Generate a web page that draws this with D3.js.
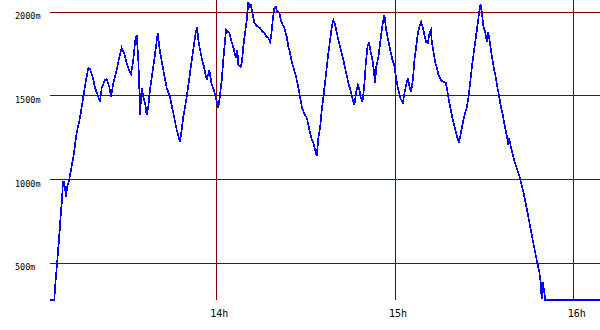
<!DOCTYPE html>
<html>
<head>
<meta charset="utf-8">
<script src="https://cdn.jsdelivr.net/npm/d3@7/dist/d3.min.js"></script>
<style>
  html, body { margin: 0; padding: 0; background: #fff; }
  svg { display: block; }
  .y-label { font-family: "DejaVu Sans Mono", monospace; font-size: 8.5px; fill: #000; }
  .x-label { font-family: "DejaVu Sans Mono", monospace; font-size: 10px; fill: #000; }
</style>
</head>
<body>
<svg id="chart"></svg>
<script>
// minutes after 13:00
const minutes = [
  4.16, 5.6, 5.82, 6.15, 6.49, 6.83, 7.16, 7.5, 7.83, 8.17, 8.5, 8.86, 9.2, 9.53, 9.87, 10.2, 10.54, 10.88, 11.21, 11.55,
  11.98, 13.12, 14.23, 15.34, 16.25, 17.02, 17.59, 18.5, 19.27, 20.18, 20.95, 21.52, 22.63, 23.2, 24.07, 24.64, 25.41, 26.56, 27.43, 28.23,
  29.01, 29.91, 30.68, 31.36, 32.13, 32.8, 33.27, 33.81, 34.14, 34.38, 34.95, 35.49, 36.06, 36.63, 37.16, 37.74, 38.84, 39.75, 40.32, 41.09,
  42.2, 43.34, 44.45, 45.56, 46.7, 47.81, 48.38, 48.92, 50.06, 51.17, 52.27, 53.08, 53.52, 54.09, 55.1, 55.87, 56.78, 57.65, 58.46, 59.23,
  59.8, 60.68, 61.25, 61.82, 62.35, 63.26, 63.83, 64.37, 65.17, 65.95, 66.52, 67.06, 67.39, 68.2, 68.54, 69.07, 69.65, 70.22, 70.76, 71.09,
  71.56, 72.1, 72.77, 73.58, 74.69, 75.59, 76.13, 76.94, 77.48, 78.05, 78.38, 78.95, 79.49, 79.96, 80.5, 81.17, 81.64, 82.31, 82.85, 83.66,
  84.2, 84.77, 85.34, 85.88, 86.78, 87.56, 88.13, 88.7, 89.47, 90.38, 90.92, 91.49, 92.06, 92.6, 93.17, 93.74, 94.28, 94.85, 95.42, 95.96,
  96.53, 97.1, 97.64, 98.21, 98.78, 99.32, 99.89, 100.46, 101.0, 101.8, 102.68, 103.59, 104.36, 105.27, 105.84, 106.38, 106.95, 107.52, 108.06, 108.53,
  109.07, 109.64, 110.21, 110.75, 111.22, 111.89, 112.56, 113.33, 113.67, 114.44, 115.25, 115.92, 116.46, 116.93, 117.47, 118.04, 118.61, 119.15, 119.72, 120.29,
  120.96, 121.5, 121.73, 122.64, 123.08, 123.75, 124.32, 124.86, 125.43, 126.0, 126.53, 127.1, 127.67, 128.21, 128.78, 129.35, 129.89, 130.46, 131.03, 131.57,
  132.04, 132.37, 132.91, 133.48, 134.05, 134.59, 135.39, 136.27, 137.07, 137.61, 138.18, 138.75, 139.29, 139.86, 140.43, 140.97, 141.44, 141.88, 142.45, 142.99,
  143.56, 144.13, 144.67, 145.24, 145.81, 146.35, 146.92, 147.49, 148.03, 148.36, 148.7, 149.17, 149.71, 150.28, 150.85, 151.29, 151.73, 152.2, 152.74, 153.31,
  153.88, 154.42, 154.99, 155.56, 156.23, 156.77, 157.34, 157.78, 158.01, 158.18, 158.61, 159.18, 159.75, 160.28, 160.85, 162.05, 163.16, 164.3, 165.41, 166.43,
  167.57, 168.45, 168.92, 169.25, 169.4, 169.66, 170.1, 170.44, 188.83
]
const altitude = [
  280, 280, 340, 418, 490, 562, 639, 717, 807, 872, 986, 986, 950, 896, 950, 974, 992, 1028, 1058, 1093,
  1129, 1279, 1368, 1494, 1595, 1667, 1661, 1613, 1548, 1506, 1464, 1548, 1595, 1601, 1554, 1494, 1577, 1655, 1733, 1787,
  1757, 1697, 1655, 1631, 1715, 1834, 1864, 1715, 1554, 1386, 1548, 1494, 1458, 1386, 1434, 1536, 1673, 1793, 1876, 1763,
  1655, 1548, 1494, 1398, 1297, 1225, 1297, 1374, 1494, 1637, 1775, 1876, 1912, 1817, 1727, 1673, 1595, 1655, 1566, 1536,
  1488, 1428, 1506, 1595, 1715, 1894, 1882, 1876, 1822, 1775, 1727, 1775, 1685, 1673, 1697, 1793, 1876, 1954, 2062, 2032,
  2044, 2002, 1936, 1918, 1906, 1882, 1876, 1852, 1846, 1822, 1852, 1954, 2026, 2032, 2002, 1996, 1954, 1924, 1906, 1852,
  1793, 1757, 1703, 1673, 1613, 1548, 1494, 1434, 1398, 1368, 1327, 1279, 1237, 1219, 1177, 1141, 1249, 1309, 1416, 1494,
  1583, 1673, 1757, 1834, 1912, 1954, 1924, 1876, 1834, 1775, 1715, 1637, 1577, 1518, 1476, 1446, 1524, 1566, 1536, 1488,
  1464, 1554, 1697, 1793, 1822, 1757, 1703, 1577, 1673, 1733, 1852, 1936, 1984, 1906, 1852, 1805, 1757, 1715, 1685, 1613,
  1548, 1506, 1488, 1458, 1506, 1566, 1607, 1554, 1524, 1595, 1715, 1793, 1876, 1912, 1942, 1906, 1864, 1822, 1817, 1876,
  1894, 1822, 1763, 1703, 1667, 1625, 1595, 1583, 1577, 1524, 1464, 1416, 1368, 1327, 1285, 1249, 1219, 1255, 1309, 1356,
  1398, 1434, 1494, 1577, 1673, 1745, 1822, 1894, 1966, 2014, 2050, 1996, 1912, 1882, 1822, 1882, 1834, 1775, 1715, 1655,
  1607, 1548, 1494, 1434, 1386, 1327, 1279, 1237, 1207, 1249, 1219, 1177, 1135, 1099, 1070, 1004, 920, 819, 717, 621,
  520, 448, 382, 287, 382, 382, 328, 280, 280
]

const yTicks = [500, 1000, 1500, 2000]
const xTicks = [60, 120, 180]
const xTickLabels = ['14h', '15h', '16h']

const width = 600,
  height = 330
const MARGIN = { top: 0, right: 0, bottom: 30, left: 50 }
const GRID = '#800000'
const LINE = '#0000ff'

const data = minutes.map((m, i) => ({ t: m, alt: altitude[i] }))

const $svg = d3.select('#chart')
  .attr('width', width)
  .attr('height', height)

const xScale = d3.scaleLinear()
  .domain(d3.extent(data, d => d.t))
  .range([MARGIN.left, width - MARGIN.right])

const yScale = d3.scaleLinear()
  .domain([280, 2073])
  .range([height - MARGIN.bottom, MARGIN.top])

// snap grid lines to whole pixels
const px = v => Math.floor(v) + 0.5

const $grid = $svg.append('g').attr('class', 'grid')

$grid.selectAll('.h-line')
  .data(yTicks)
  .enter()
  .append('line')
  .attr('class', 'h-line')
  .attr('x1', MARGIN.left)
  .attr('x2', width - MARGIN.right)
  .attr('y1', d => px(yScale(d)))
  .attr('y2', d => px(yScale(d)))
  .attr('stroke', GRID)
  .attr('stroke-width', 1)
  .attr('shape-rendering', 'crispEdges')

$grid.selectAll('.v-line')
  .data(xTicks)
  .enter()
  .append('line')
  .attr('class', 'v-line')
  .attr('x1', d => px(xScale(d)))
  .attr('x2', d => px(xScale(d)))
  .attr('y1', MARGIN.top)
  .attr('y2', height - MARGIN.bottom)
  .attr('stroke', GRID)
  .attr('stroke-width', 1)
  .attr('shape-rendering', 'crispEdges')

$svg.selectAll('.y-label')
  .data(yTicks)
  .enter()
  .append('text')
  .attr('class', 'y-label')
  .attr('x', 15)
  .attr('y', d => yScale(d) + 7)
  .text(d => `${d}m`)

$svg.selectAll('.x-label')
  .data(xTicks)
  .enter()
  .append('text')
  .attr('class', 'x-label')
  .attr('x', d => xScale(d) + 3)
  .attr('y', 317)
  .attr('text-anchor', 'middle')
  .text((d, i) => xTickLabels[i])

const line = d3.line()
  .x(d => xScale(d.t))
  .y(d => yScale(d.alt))

$svg.append('path')
  .datum(data)
  .attr('fill', 'none')
  .attr('stroke', LINE)
  .attr('stroke-width', 1.7)
  .attr('shape-rendering', 'crispEdges')
  .attr('d', line)
</script>
</body>
</html>
